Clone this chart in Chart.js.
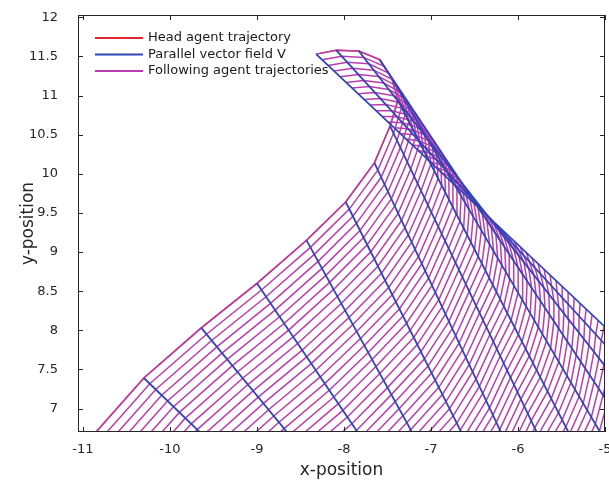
<!DOCTYPE html>
<html>
<head>
<meta charset="utf-8">
<script src="https://cdn.jsdelivr.net/npm/chart.js@4.4.0/dist/chart.umd.min.js"></script>
<style>
  html, body { margin: 0; padding: 0; background: #fff; }
  #wrap { width: 609px; height: 483px; }
</style>
</head>
<body>
<div id="wrap"><canvas id="chart"></canvas></div>
<script>
// head agent position at each sampled time (every blue line starts here)
const headX = [-11.24, -10.30, -9.64, -9.00, -8.43, -7.98, -7.65, -7.47, -7.38, -7.45, -7.59, -7.83, -8.09, -8.32];
const headY = [6.21, 7.39, 8.03, 8.60, 9.15, 9.64, 10.14, 10.61, 10.94, 11.22, 11.46, 11.57, 11.58, 11.53];
// direction of the parallel vector field V at those times (degrees)
const fieldAngle = [-47.1, -47.1, -53.5, -58.7, -63.7, -65.7, -67.1, -66.7, -65.2, -62.1, -59.1, -54.9, -50.6, -46.4];
// distance between neighbouring agents along V
const agentGap = 0.1;
const agentCount = 64;

const xTicks = [-11, -10, -9, -8, -7, -6, -5];
const yTicks = [7, 7.5, 8, 8.5, 9, 9.5, 10, 10.5, 11, 11.5, 12];

const RED = '#e5262b';
const BLUE = '#2f45b8';
const MAGENTA = '#bb3cae';
const INK = '#262626';

// position of agent i at sample k
function agentAt(i, k) {
  const a = fieldAngle[k] * Math.PI / 180;
  return {
    x: headX[k] + i * agentGap * Math.cos(a),
    y: headY[k] + i * agentGap * Math.sin(a)
  };
}

let datasets = [];

// head agent trajectory
datasets.push({
  label: 'Head agent trajectory',
  data: headX.map((x, k) => ({ x: x, y: headY[k] })),
  borderColor: RED, borderWidth: 1.5, order: 3
});

// following agent trajectories
for (let i = 0; i < agentCount; i++) {
  datasets.push({
    label: 'Following agent trajectories',
    data: headX.map((_, k) => agentAt(i, k)),
    borderColor: MAGENTA, borderWidth: 1.5, order: 2
  });
}

// the vector field V as the formation line at each sample
for (let k = 0; k < headX.length; k++) {
  datasets.push({
    label: 'Parallel vector field V',
    data: [agentAt(0, k), agentAt(agentCount - 1, k)],
    borderColor: BLUE, borderWidth: 1.8, order: 1
  });
}

datasets.forEach(d => {
  d.showLine = true;
  d.pointRadius = 0;
  d.fill = false;
  d.tension = 0;
  d.clip = 0;
});

const legendItems = [
  { text: 'Head agent trajectory', color: RED },
  { text: 'Parallel vector field V', color: BLUE },
  { text: 'Following agent trajectories', color: MAGENTA }
];

// box with inward ticks on all four sides, like the original axes
const boxPlugin = {
  id: 'box',
  afterDatasetsDraw(chart) {
    const { ctx, chartArea: a, scales } = chart;
    ctx.save();
    ctx.strokeStyle = INK;
    ctx.lineWidth = 1;
    ctx.strokeRect(a.left + 0.5, a.top + 0.5, a.right - a.left - 1, a.bottom - a.top - 1);
    ctx.beginPath();
    xTicks.forEach(v => {
      const px = Math.round(scales.x.getPixelForValue(v)) + 0.5;
      ctx.moveTo(px, a.bottom); ctx.lineTo(px, a.bottom - 5);
      ctx.moveTo(px, a.top); ctx.lineTo(px, a.top + 5);
    });
    yTicks.forEach(v => {
      const py = Math.round(scales.y.getPixelForValue(v)) + 0.5;
      ctx.moveTo(a.left, py); ctx.lineTo(a.left + 5, py);
      ctx.moveTo(a.right, py); ctx.lineTo(a.right - 5, py);
    });
    ctx.stroke();

    // legend, top left inside the axes
    ctx.font = '13px "DejaVu Sans"';
    ctx.textBaseline = 'middle';
    legendItems.forEach((it, n) => {
      const y = a.top + 23 + n * 16.5;
      ctx.strokeStyle = it.color;
      ctx.lineWidth = 2;
      ctx.beginPath();
      ctx.moveTo(a.left + 17, y); ctx.lineTo(a.left + 65, y);
      ctx.stroke();
      ctx.fillStyle = '#1a1a1a';
      ctx.fillText(it.text, a.left + 70, y);
    });
    ctx.restore();
  }
};

new Chart(document.getElementById('chart'), {
  type: 'scatter',
  data: { datasets: datasets },
  options: {
    responsive: true,
    maintainAspectRatio: false,
    animation: false,
    events: [],
    layout: { padding: { top: 15, right: 4, left: 0, bottom: 0 } },
    plugins: { legend: { display: false }, tooltip: { enabled: false } },
    scales: {
      x: {
        type: 'linear', min: -11.057, max: -5,
        afterBuildTicks: s => { s.ticks = xTicks.map(v => ({ value: v })); },
        afterFit: s => { s.height = 51; s.paddingLeft = 0; s.paddingRight = 0; },
        grid: { display: false },
        border: { display: false },
        ticks: { color: INK, font: { family: 'DejaVu Sans', size: 13 }, padding: 2, maxRotation: 0, callback: v => String(v) },
        title: { display: true, text: 'x-position', color: INK, font: { family: 'DejaVu Sans', size: 17 }, padding: { top: 0, bottom: 2 } }
      },
      y: {
        type: 'linear', min: 6.7, max: 12.03,
        afterBuildTicks: s => { s.ticks = yTicks.map(v => ({ value: v })); },
        afterFit: s => { s.width = 78; s.paddingTop = 0; s.paddingBottom = 0; },
        grid: { display: false },
        border: { display: false },
        ticks: { color: INK, font: { family: 'DejaVu Sans', size: 13 }, padding: 12, callback: v => String(v) },
        title: { display: true, text: 'y-position', color: INK, font: { family: 'DejaVu Sans', size: 17 }, padding: { top: 18, bottom: 0 } }
      }
    }
  },
  plugins: [boxPlugin]
});
</script>
</body>
</html>
